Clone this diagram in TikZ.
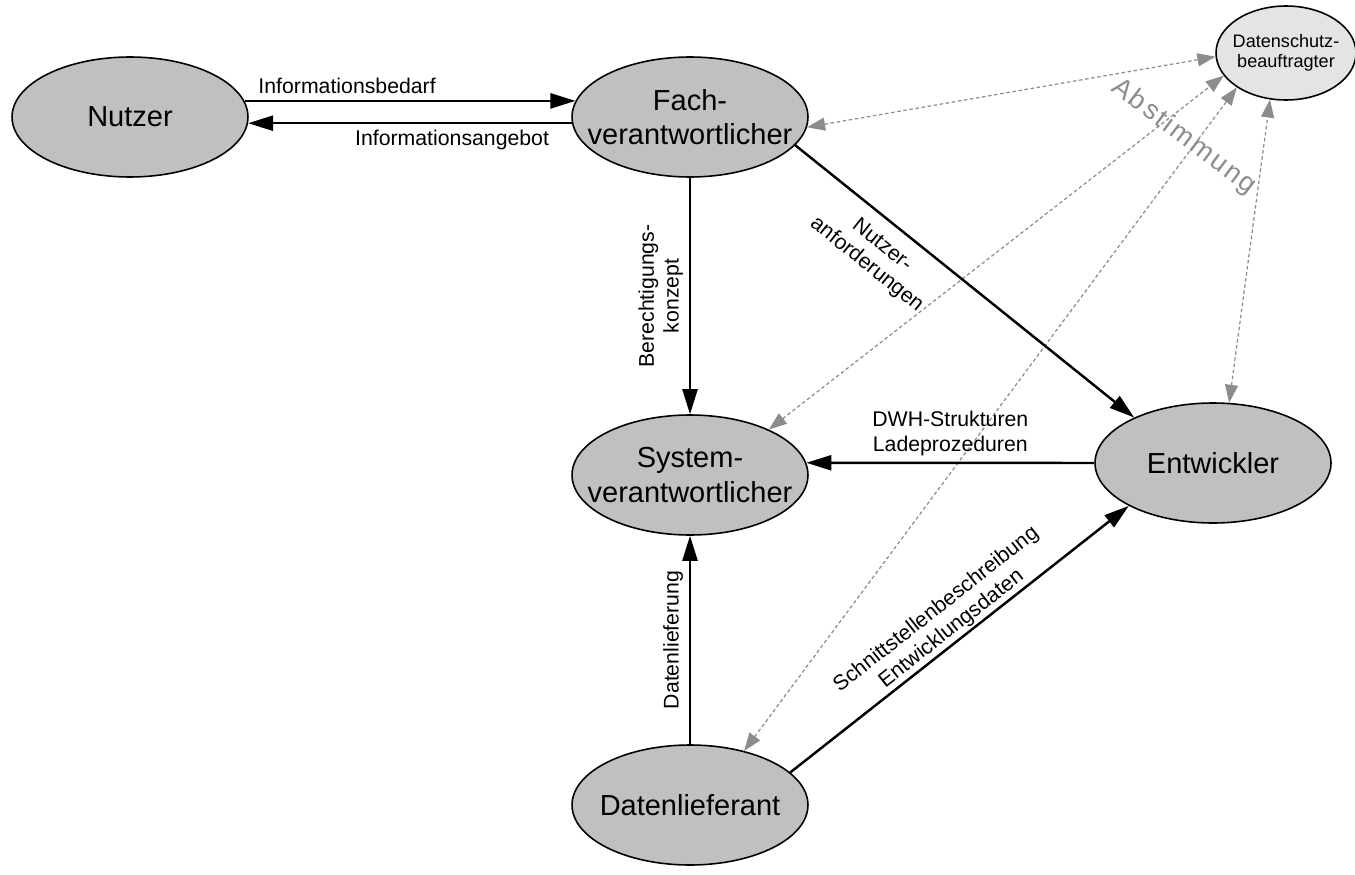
\documentclass[tikz,border=0pt]{standalone}
\usepackage{fontspec}
\setmainfont{Liberation Sans}
\newfontfamily\spacedfont[LetterSpace=9]{Liberation Sans}
\usetikzlibrary{shapes.geometric, arrows.meta}
\usepackage{xcolor}
\definecolor{rolegray}{HTML}{C0C0C0}
\definecolor{dsgray}{HTML}{E4E4E4}
\definecolor{linegray}{HTML}{8C8C8C}

\begin{document}
\begin{tikzpicture}[
    x=0.02cm, y=-0.02cm,
    role/.style={ellipse, draw, line width=0.9pt, fill=rolegray, minimum width=4.72cm, minimum height=2.4cm, inner xsep=-12pt, inner ysep=0pt, align=center, font=\fontsize{16.5}{19.5}\selectfont},
    dsrole/.style={role, fill=dsgray, minimum width=2.8cm, minimum height=1.88cm, inner xsep=-5pt, font=\fontsize{10.3}{11.3}\selectfont},
    arr/.style={-{Triangle[length=0.5cm, width=0.3cm]}, line width=1.4pt},
    darr/.style={{Triangle[length=0.36cm, width=0.26cm]}-{Triangle[length=0.36cm, width=0.26cm]}, linegray, line width=0.7pt, dash pattern=on 2pt off 1.5pt},
    lbl/.style={font=\fontsize{12.1}{14}\selectfont, align=center},
]
\useasboundingbox (0,0) rectangle (1355,875);

% Nodes
\node[role] (nutzer) at (130,117) {Nutzer};
\node[role] (fach) at (690,117) {Fach-\\verantwortlicher};
\node[role] (system) at (690,475) {System-\\verantwortlicher};
\node[role] (entw) at (1213,463) {Entwickler};
\node[role] (dlief) at (690,805) {Datenlieferant};
\node[dsrole] (dsb) at (1286,53) {Datenschutz-\\beauftragter};

% Abstimmung (dashed)
\draw[darr] (fach.-5) -- (dsb.183);
\draw[darr] (system.30) -- (dsb.200);
\draw[darr] (dlief.45) -- (dsb.215);
\draw[darr] (entw.75) -- (dsb.251);
\node[font=\spacedfont\fontsize{15.5}{17}\selectfont, text=linegray, rotate=-37] (abst) at (1184,137) {Abstimmung};

% Arrows
\draw[arr] (nutzer.8) -- node[lbl, pos=0.31, above] {Informationsbedarf} (fach.172);
\draw[arr] (fach.183) -- node[lbl, pos=0.37, below] {Informationsangebot} (nutzer.-3);
\draw[arr] (fach.south) -- node[lbl, midway, rotate=90, anchor=south] {Berechtigungs-\\konzept} (system.north);
\draw[arr] (fach.-15) -- node[lbl, pos=0.3, sloped, below=0.15cm] {Nutzer-\\anforderungen} (entw.150);
\draw[arr] (entw.west) -- node[lbl, midway, above] {DWH-Strukturen\\Ladeprozeduren} (system.6);
\draw[arr] (dlief.north) -- node[lbl, midway, rotate=90, anchor=south] {Datenlieferung} (system.south);
\draw[arr] (dlief.18) -- node[lbl, midway, sloped, above, inner sep=1pt] {Schnittstellenbeschreibung\\Entwicklungsdaten} (entw.207);

\end{tikzpicture}
\end{document}
